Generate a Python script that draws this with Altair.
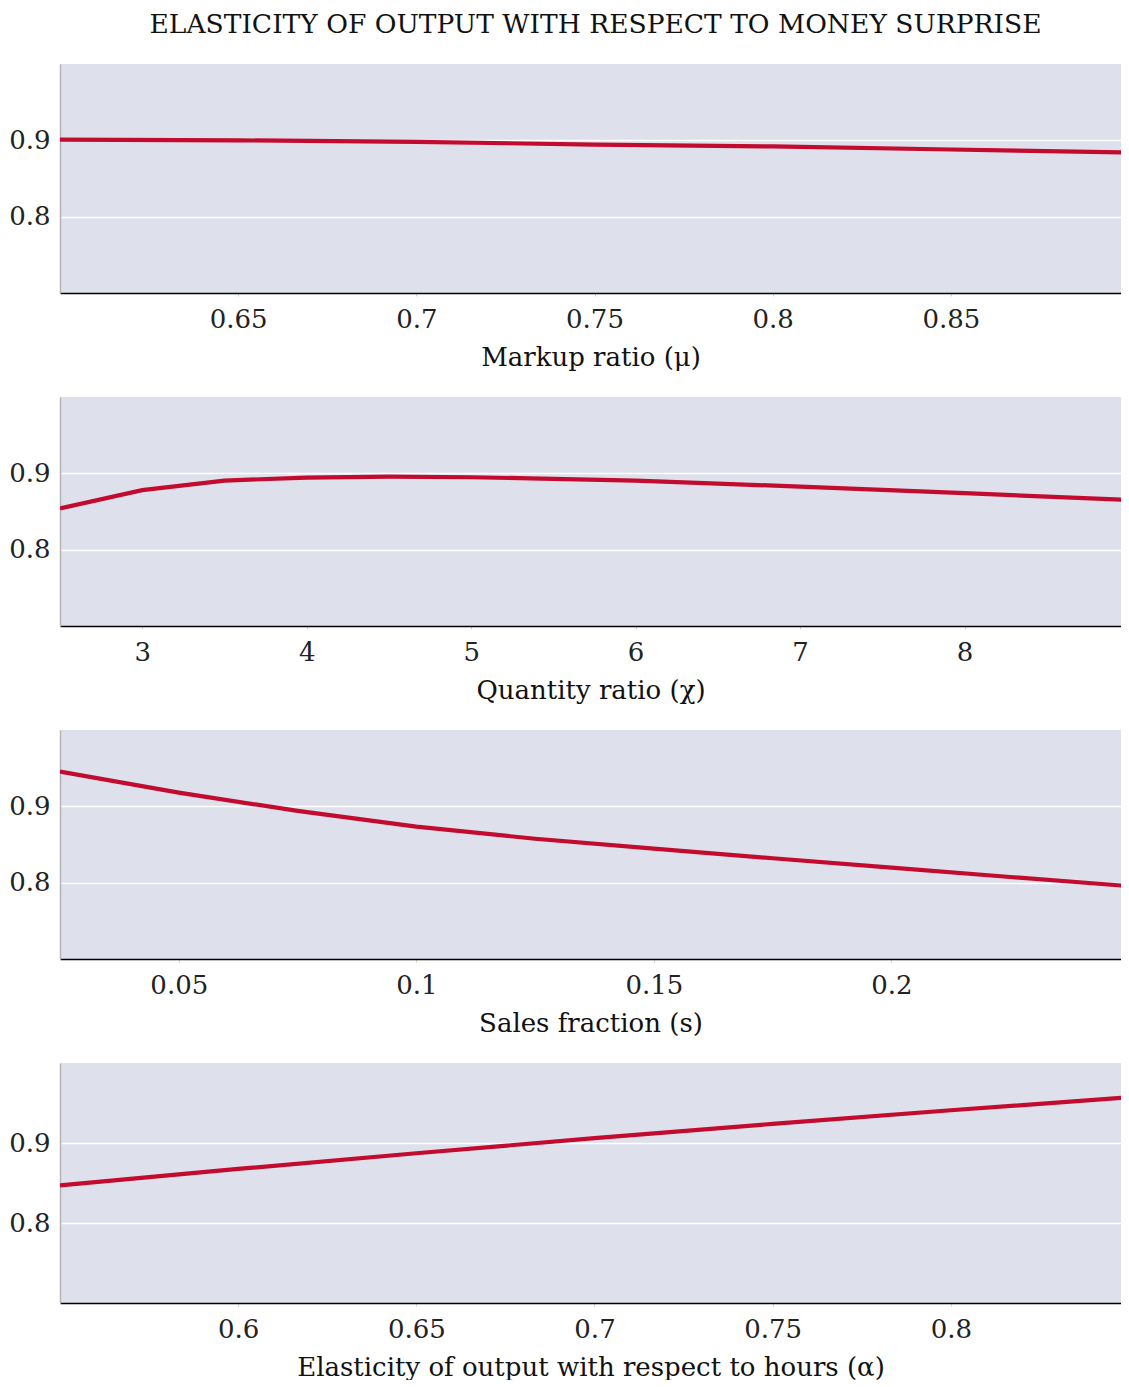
import altair as alt
import pandas as pd

# Panel 1: Markup ratio
mu_x = [0.6, 0.65, 0.7, 0.75, 0.8, 0.85, 0.9]
mu_y = [0.901, 0.900, 0.898, 0.8945, 0.892, 0.888, 0.884]

# Panel 2: Quantity ratio
chi_x = [2.5, 3, 3.5, 4, 4.5, 5, 5.5, 6, 6.5, 7, 7.5, 8, 8.5, 9]
chi_y = [0.854, 0.878, 0.8905, 0.8945, 0.8958, 0.8949, 0.8928, 0.8905,
         0.8866, 0.8826, 0.8783, 0.874, 0.8695, 0.865]

# Panel 3: Sales fraction
s_x = [0.025, 0.05, 0.075, 0.1, 0.125, 0.15, 0.175, 0.2, 0.225, 0.25]
s_y = [0.9455, 0.918, 0.894, 0.8734, 0.8575, 0.8446, 0.832, 0.8196, 0.8074, 0.7955]

# Panel 4: Elasticity of output with respect to hours
a_x = [0.55, 0.6, 0.65, 0.7, 0.75, 0.8, 0.85]
a_y = [0.847, 0.8676, 0.8872, 0.906, 0.9239, 0.9409, 0.957]

panels = [
    (mu_x, mu_y, [0.6, 0.9], [0.65, 0.7, 0.75, 0.8, 0.85], "Markup ratio (μ)", 229),
    (chi_x, chi_y, [2.5, 9], [3, 4, 5, 6, 7, 8], "Quantity ratio (χ)", 229),
    (s_x, s_y, [0.025, 0.25], [0.05, 0.1, 0.15, 0.2], "Sales fraction (s)", 229),
    (a_x, a_y, [0.55, 0.85], [0.6, 0.65, 0.7, 0.75, 0.8],
     "Elasticity of output with respect to hours (α)", 240),
]

FONT = "DejaVu Serif"
LINE = "#c20b2e"
FULL_W = 1069   # plot width in the original (runs to the page edge)
W = 1061        # visible width inside the page margin

charts = []
for xs, ys, dom, ticks, title, h in panels:
    df = pd.DataFrame({"x": xs, "y": ys})
    vis_max = dom[1] - (dom[1] - dom[0]) * (FULL_W - W) / FULL_W
    c = alt.Chart(df).mark_line(color=LINE, strokeWidth=4.2, clip=True).encode(
        x=alt.X("x:Q",
                scale=alt.Scale(domain=[dom[0], vis_max], nice=False, zero=False),
                axis=alt.Axis(values=ticks, title=title, format="~g", grid=False,
                              domainColor="#000000", domainWidth=1.5,
                              ticks=True, tickColor="#d0d0d0", tickSize=3,
                              labelPadding=10, titlePadding=12)),
        y=alt.Y("y:Q",
                scale=alt.Scale(domain=[0.7, 1.0], nice=False, zero=False),
                axis=alt.Axis(values=[0.8, 0.9], title=None, format="~g",
                              grid=True, gridColor="#ffffff", gridWidth=1.5,
                              domainColor="#b4b4b4", domainWidth=1.5,
                              ticks=False, labelPadding=10, minExtent=52)),
    ).properties(width=W, height=h)
    charts.append(c)

chart = alt.vconcat(*charts, spacing=27).properties(
    title=alt.TitleParams(
        text="ELASTICITY OF OUTPUT WITH RESPECT TO MONEY SURPRISE",
        font=FONT, fontSize=26.5, fontWeight="normal", color="#111111",
        anchor="middle", offset=26, dx=31),
    padding={"left": 0, "top": 3, "right": 0, "bottom": 0},
).configure_view(
    fill="#dee0ec", stroke=None
).configure_axis(
    labelFont=FONT, labelFontSize=26, labelColor="#222222",
    titleFont=FONT, titleFontSize=26, titleFontWeight="normal", titleColor="#111111",
).configure_concat(spacing=27)

chart.save("out.html", embed_options={"renderer": "svg", "actions": False})
